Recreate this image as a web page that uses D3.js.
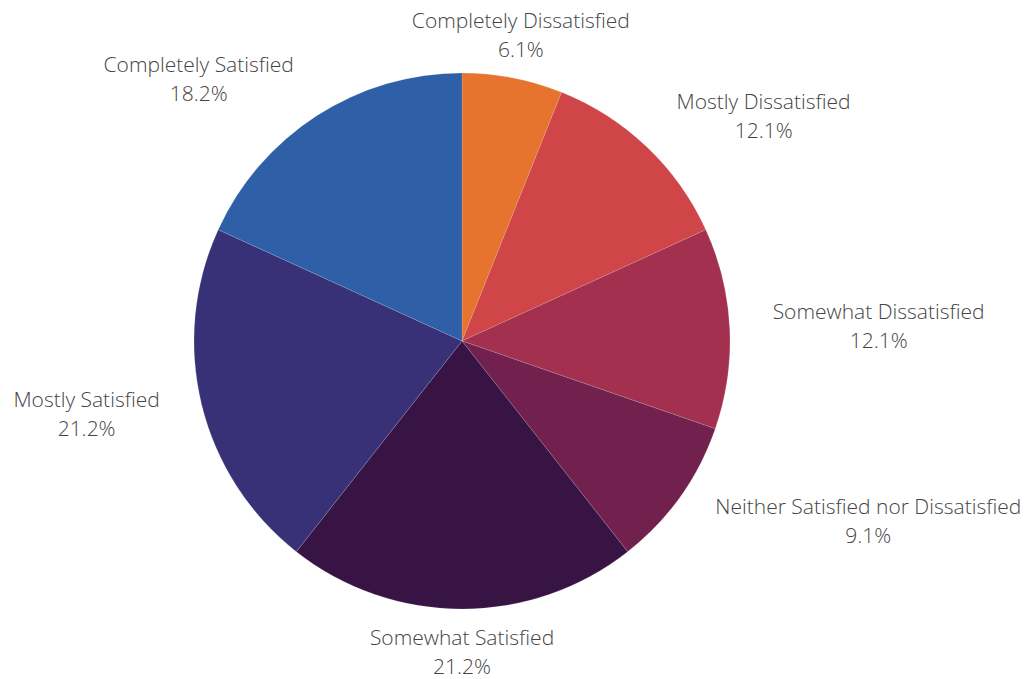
<!DOCTYPE html>
<html>
<head>
<meta charset="utf-8">
<script src="https://cdn.jsdelivr.net/npm/d3@7/dist/d3.min.js"></script>
<style>
  html, body { margin: 0; padding: 0; background: #ffffff; }
  svg { display: block; }
  text { font-family: "Open Sans", sans-serif; font-weight: 300; fill: #444444; }
</style>
</head>
<body>
<svg id="chart" width="1029" height="679"></svg>
<script>
// Satisfaction survey responses (counts), clockwise from 12 o'clock
const categories = [
  "Completely Dissatisfied",
  "Mostly Dissatisfied",
  "Somewhat Dissatisfied",
  "Neither Satisfied nor Dissatisfied",
  "Somewhat Satisfied",
  "Mostly Satisfied",
  "Completely Satisfied"
];
const counts = [2, 4, 4, 3, 7, 7, 6];
const colors = ["#e6742e", "#d04547", "#a3304f", "#72214f", "#381444", "#393178", "#2f5fa7"];

const width = 1029, height = 679;
const cx = 462, cy = 341, radius = 268, labelRadius = 311;
const total = d3.sum(counts);

const svg = d3.select("#chart");
const g = svg.append("g").attr("transform", `translate(${cx},${cy})`);

const pie = d3.pie().sort(null).value(d => d.value);
const arcs = pie(categories.map((c, i) => ({ name: c, value: counts[i], color: colors[i] })));
const arc = d3.arc().innerRadius(0).outerRadius(radius);

g.selectAll("path.slice")
  .data(arcs)
  .join("path")
  .attr("class", "slice")
  .attr("d", arc)
  .attr("fill", d => d.data.color)
  .attr("stroke", "rgba(255,255,255,0.25)")
  .attr("stroke-width", 0.5);

const fmt = d3.format(".1%");
const fontSize = 21, lineH = 29;

arcs.forEach(d => {
  const a = (d.startAngle + d.endAngle) / 2;
  const px = labelRadius * Math.sin(a);
  const py = -labelRadius * Math.cos(a);
  const s = Math.sin(a);
  const lines = [d.data.name, fmt(d.data.value / total)];

  const lab = g.append("g");
  const texts = lab.selectAll("text")
    .data(lines)
    .join("text")
    .attr("text-anchor", "middle")
    .attr("font-size", fontSize)
    .attr("dy", "0.35em")
    .attr("y", (t, i) => (i - 0.5) * lineH)
    .text(t => t);

  // block width: widest line
  let w = 0;
  texts.each(function() { w = Math.max(w, this.getComputedTextLength()); });
  let bx;
  if (Math.abs(s) < 0.3) bx = px;            // near top/bottom: centred
  else if (s > 0) bx = px + w / 2;           // right side: block starts at point
  else bx = px - w / 2;                      // left side: block ends at point
  lab.attr("transform", `translate(${bx},${py})`);
});
</script>
</body>
</html>
